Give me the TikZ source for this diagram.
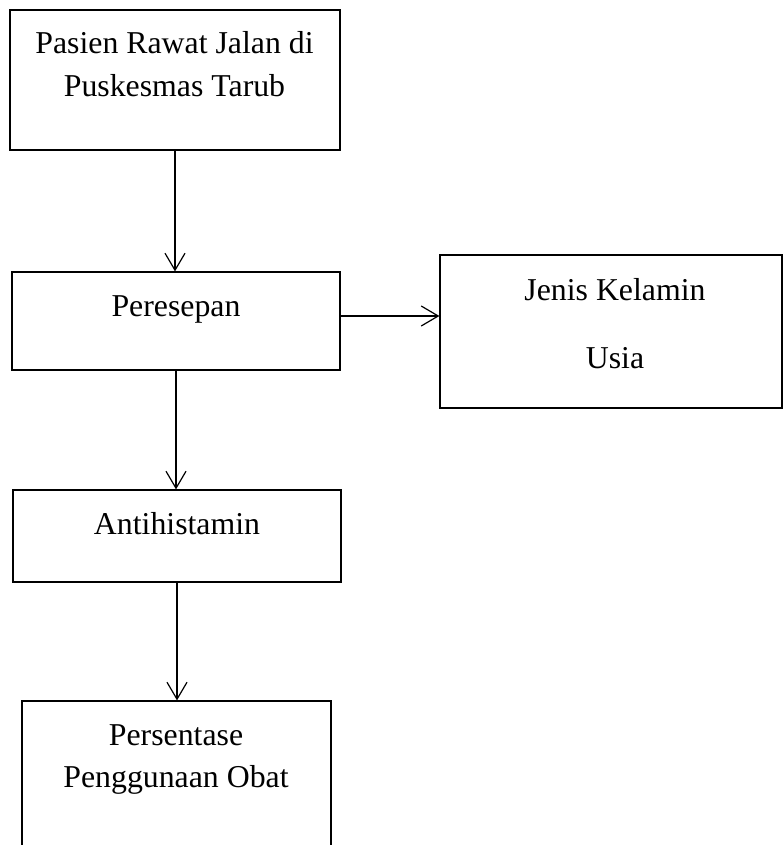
\documentclass[tikz,border=0pt]{standalone}
\usepackage{fontspec}
\setmainfont{Liberation Serif}
\usetikzlibrary{arrows.meta}
\begin{document}
\begin{tikzpicture}[x=1pt,y=-1pt,
  box/.style={draw=black, line width=1.2pt, rectangle, inner sep=0pt},
  txt/.style={anchor=base, inner sep=0pt, font=\fontsize{31.8}{38}\selectfont},
  arr/.style={draw=black, line width=1.2pt, -{Straight Barb[length=17pt,width=20pt,line width=1.2pt]}}]
\useasboundingbox (0,0) rectangle (783,845);
% boxes
\node[box, minimum width=330pt, minimum height=140pt] (a) at (175,80) {};
\node[box, minimum width=328pt, minimum height=98pt] (b) at (176,321) {};
\node[box, minimum width=342pt, minimum height=153pt] (c) at (611,331.5) {};
\node[box, minimum width=328pt, minimum height=92pt] (d) at (177,536) {};
\node[box, minimum width=309pt, minimum height=180pt] (e) at (176.5,791) {};
% texts
\node[txt] (a1) at (174.5,54) {Pasien Rawat Jalan di};
\node[txt] (a2) at (174.5,97) {Puskesmas Tarub};
\node[txt] (b1) at (176,316) {Peresepan};
\node[txt] (c1) at (615,300) {Jenis Kelamin};
\node[txt] (c2) at (615,368) {Usia};
\node[txt] (d1) at (177,534) {Antihistamin};
\node[txt] (e1) at (176,745) {Persentase};
\node[txt] (e2) at (176,787) {Penggunaan Obat};
% connectors
\draw[arr] (a.south) -- (a.south |- b.north);
\draw[arr] (b.south) -- (b.south |- d.north);
\draw[arr] (d.south) -- (d.south |- e.north);
\draw[arr] ([yshift=5pt]b.east) -- ([yshift=5pt]b.east -| c.west);
\end{tikzpicture}
\end{document}
